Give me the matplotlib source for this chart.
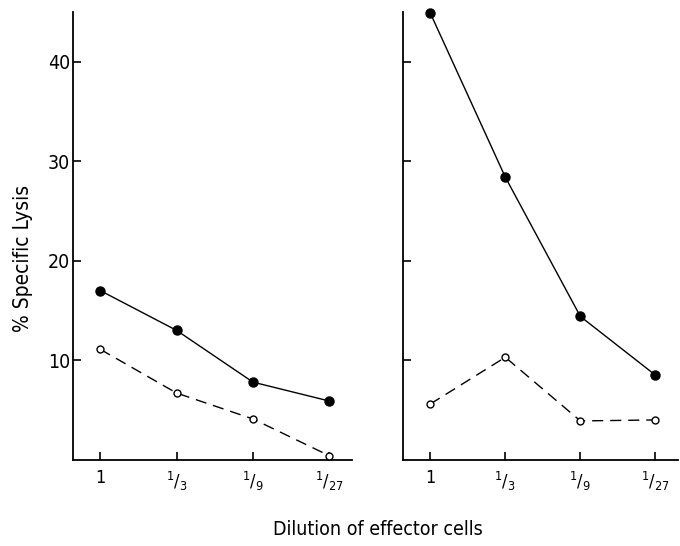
import matplotlib
matplotlib.use("Agg")
import matplotlib.pyplot as plt

plt.rcParams['font.family'] = ['DejaVu Sans']
plt.rcParams['font.stretch'] = 'condensed'
plt.rcParams['mathtext.fontset'] = 'custom'
plt.rcParams['mathtext.rm'] = 'DejaVu Sans:stretch=condensed'

# data
dilutions = ["1", "1/3", "1/9", "1/27"]
tick_labels = ["1", r"$^{1}/_{3}$", r"$^{1}/_{9}$", r"$^{1}/_{27}$"]
left_filled = [17.0, 13.0, 7.8, 5.9]
left_open = [11.1, 6.7, 4.1, 0.4]
right_filled = [44.9, 28.4, 14.4, 8.5]
right_open = [5.6, 10.3, 3.9, 4.0]
yticks = [10, 20, 30, 40]

fig = plt.figure(figsize=(6.8, 5.46), dpi=100)
ax1 = fig.add_axes([0.107, 0.158, 0.411, 0.820])
ax2 = fig.add_axes([0.593, 0.158, 0.404, 0.820])

x = list(range(len(dilutions)))

for ax, filled, opn in [(ax1, left_filled, left_open), (ax2, right_filled, right_open)]:
    ax.plot(x, filled, color="black", lw=1.0, marker="o", ms=6.5,
            mfc="black", mec="black", clip_on=False, zorder=3)
    ax.plot(x, opn, color="black", lw=1.0, ls=(0, (8, 5)), marker="o", ms=5,
            mfc="white", mec="black", mew=1.0, clip_on=False, zorder=3)
    ax.set_xlim(-0.36, 3.3)
    ax.set_ylim(0, 45)
    ax.spines["top"].set_visible(False)
    ax.spines["right"].set_visible(False)
    ax.spines["left"].set_linewidth(1.3)
    ax.spines["bottom"].set_linewidth(1.3)
    ax.set_xticks(x)
    ax.set_xticklabels(tick_labels, fontsize=13)
    ax.set_yticks(yticks)
    ax.tick_params(direction="in", length=6, width=1.2, pad=7)

ax1.set_yticklabels([str(v) for v in yticks], fontsize=14)
ax1.tick_params(axis="y", pad=2)
ax2.set_yticklabels([])

fig.text(0.034, 0.526, "% Specific Lysis", rotation=90, ha="center", va="center", fontsize=15)
fig.text(0.556, 0.03, "Dilution of effector cells", ha="center", va="center", fontsize=14)

fig.savefig("out.png", dpi=100)
